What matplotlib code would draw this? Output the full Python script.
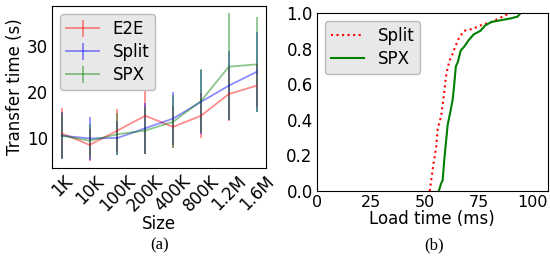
import numpy as np
import matplotlib
matplotlib.use("Agg")
import matplotlib.pyplot as plt

# (a) transfer time vs size
sizes = ["1K", "10K", "100K", "200K", "400K", "800K", "1.2M", "1.6M"]
e2e_mean = [11.1, 8.6, 11.7, 14.9, 12.5, 14.9, 19.6, 21.4]
e2e_err = [5.4, 3.4, 4.6, 8.3, 4.6, 4.9, 5.9, 4.6]
split_mean = [10.6, 10.0, 10.1, 12.2, 14.3, 17.9, 21.4, 24.4]
split_err = [5.1, 4.7, 3.7, 5.5, 5.8, 6.9, 7.5, 8.7]
spx_mean = [10.6, 9.5, 10.9, 11.7, 13.6, 18.1, 25.5, 26.0]
spx_err = [5.0, 3.6, 4.5, 5.0, 5.7, 6.8, 11.5, 10.2]

# (b) CDF of load time
split_ms = [52.3, 53.0, 54.1, 55.3, 56.0, 57.6, 59.0, 59.8, 60.6, 61.4, 62.9,
            64.1, 65.9, 68.2, 72.0, 75.8, 81.0, 87.0, 88.6, 90.0]
split_cdf = [0.0, 0.06, 0.156, 0.25, 0.35, 0.42, 0.55, 0.64, 0.69, 0.73, 0.77,
             0.81, 0.86, 0.90, 0.91, 0.93, 0.95, 0.985, 0.995, 1.0]
spx_ms = [56.5, 57.6, 58.3, 59.0, 59.8, 60.6, 62.1, 62.9, 63.6, 64.4, 65.2,
          66.7, 68.2, 70.5, 72.7, 75.8, 78.0, 81.0, 85.5, 90.0, 93.0, 94.5]
spx_cdf = [0.0, 0.043, 0.06, 0.17, 0.27, 0.37, 0.46, 0.51, 0.59, 0.70, 0.72,
           0.79, 0.81, 0.85, 0.88, 0.90, 0.93, 0.95, 0.96, 0.97, 0.98, 1.0]

plt.rcParams["font.family"] = "DejaVu Sans"
plt.rcParams["font.size"] = 12

fig = plt.figure(figsize=(5.5, 2.65), dpi=100)
ax1 = fig.add_axes([0.0945, 0.366, 0.39, 0.611])
ax2 = fig.add_axes([0.576, 0.279, 0.42, 0.672])

x = np.arange(len(sizes))
ax1.errorbar(x, e2e_mean, yerr=e2e_err, color="r", alpha=0.45, lw=1.3, label="E2E")
ax1.errorbar(x, split_mean, yerr=split_err, color="b", alpha=0.45, lw=1.3, label="Split")
ax1.errorbar(x, spx_mean, yerr=spx_err, color="g", alpha=0.45, lw=1.3, label="SPX")
ax1.set_xticks(x)
ax1.set_xticklabels(sizes, rotation=45)
ax1.set_yticks([10, 20, 30])
ax1.set_xlabel("Size", labelpad=0)
ax1.set_ylabel("Transfer time (s)", labelpad=2)
ax1.legend(loc="upper left", fancybox=True, facecolor="#e8e8e8",
           edgecolor="#bbbbbb", framealpha=1, handlelength=2.0,
           borderpad=0.35, labelspacing=0.3)

ax2.plot(split_ms, split_cdf, color="r", ls=":", lw=1.5, label="Split")
ax2.plot(spx_ms, spx_cdf, color="g", ls="-", lw=1.5, label="SPX")
ax2.set_xlim(0, 107)
ax2.set_ylim(0, 1.0)
ax2.set_xticks([0, 25, 50, 75, 100])
ax2.set_yticks([0.0, 0.2, 0.4, 0.6, 0.8, 1.0])
ax2.set_xlabel("Load time (ms)", labelpad=0)
ax2.legend(loc="upper left", fancybox=True, facecolor="#e8e8e8",
           edgecolor="#bbbbbb", framealpha=1, handlelength=2.0,
           borderpad=0.35, labelspacing=0.3)

for ax in (ax1, ax2):
    ax.tick_params(length=0, pad=3)
ax2.tick_params(axis="x", labelsize=11.5)

fig.text(0.291, 0.06, "(a)", family="Liberation Serif", fontsize=12, ha="center")
fig.text(0.79, 0.06, "(b)", family="Liberation Serif", fontsize=12, ha="center")

fig.savefig("out.png", dpi=100)
